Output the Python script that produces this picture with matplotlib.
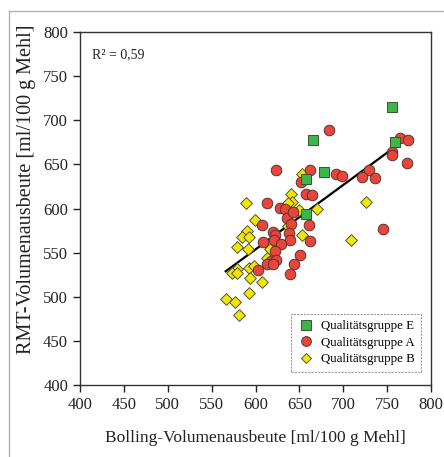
import matplotlib
matplotlib.use("Agg")
import matplotlib.pyplot as plt
from matplotlib.lines import Line2D

plt.rcParams['font.family'] = ['Liberation Serif', 'DejaVu Serif']

# Qualitätsgruppe E (green squares)
e_x = [756, 665, 759, 678, 657, 657]
e_y = [715, 678, 675, 642, 633, 594]

# Qualitätsgruppe A (red circles)
a_x = [684, 765, 774, 756, 756, 772, 623, 662, 692, 698, 729, 721, 736, 652,
       658, 664, 613, 628, 634, 636, 643, 607, 640, 661, 620, 622, 638, 621,
       639, 662, 608, 629, 622, 651, 618, 623, 613, 620, 644, 603, 639, 745]
a_y = [689, 680, 678, 664, 661, 652, 644, 644, 639, 637, 644, 636, 635, 630,
       617, 615, 606, 601, 600, 589, 596, 581, 583, 581, 574, 570, 572, 565,
       565, 563, 562, 560, 552, 548, 541, 542, 537, 537, 537, 531, 526, 577]

# Qualitätsgruppe B (yellow diamonds)
b_x = [653, 640, 641, 637, 589, 649, 670, 726, 599, 637, 590, 585, 593, 653,
       709, 579, 592, 617, 613, 593, 598, 579, 573, 579, 594, 607, 593, 566,
       577, 581]
b_y = [639, 616, 608, 606, 606, 598, 600, 607, 587, 580, 575, 568, 568, 570,
       565, 557, 554, 554, 544, 533, 535, 532, 527, 527, 522, 517, 504, 498,
       494, 479]

# regression line endpoints
fit_x = [566, 770]
fit_y = [529, 678]

x_ticks = [400, 450, 500, 550, 600, 650, 700, 750, 800]
y_ticks = [400, 450, 500, 550, 600, 650, 700, 750, 800]

fig = plt.figure(figsize=(4.44, 4.57), dpi=100)
fig.patch.set_facecolor('white')
# scanned frame
fig.add_artist(Line2D([0.02, 0.02], [0.0, 0.975], transform=fig.transFigure,
                      color='#a9b8a0', lw=1.0))
fig.add_artist(Line2D([0.02, 1.0], [0.975, 0.975], transform=fig.transFigure,
                      color='#a9b8a0', lw=1.0))

ax = fig.add_axes([0.180, 0.157, 0.791, 0.773])
ax.plot(fit_x, fit_y, color='black', lw=1.6, zorder=2)
ax.scatter(b_x, b_y, marker='D', s=36, facecolor='#f3e600', edgecolor='#555533',
           linewidth=0.7, zorder=3, label='Qualitätsgruppe B')
ax.scatter(a_x, a_y, marker='o', s=58, facecolor='#e8463a', edgecolor='#553333',
           linewidth=0.7, zorder=3, label='Qualitätsgruppe A')
ax.scatter(e_x, e_y, marker='s', s=50, facecolor='#3db54a', edgecolor='#335533',
           linewidth=0.7, zorder=3, label='Qualitätsgruppe E')

ax.set_xlim(400, 800)
ax.set_ylim(400, 800)
ax.set_xticks(x_ticks)
ax.set_yticks(y_ticks)
ax.tick_params(direction='out', length=5, width=1, labelsize=12, colors='#222222')
for s in ax.spines.values():
    s.set_linewidth(1.0)
    s.set_color('#333333')

ax.set_xlabel('Bolling-Volumenausbeute [ml/100 g Mehl]', fontsize=12.5, labelpad=12,
              color='#222222')
ax.set_ylabel('RMT-Volumenausbeute [ml/100 g Mehl]', fontsize=14.5,
              color='#222222')
ax.yaxis.set_label_coords(-0.125, 0.555)

ax.text(0.035, 0.935, 'R² = 0,59', transform=ax.transAxes, fontsize=10,
        color='#222222', va='center')

handles = [
    Line2D([], [], marker='s', ls='none', markersize=6.5, markerfacecolor='#3db54a',
           markeredgecolor='#335533', markeredgewidth=0.7),
    Line2D([], [], marker='o', ls='none', markersize=7, markerfacecolor='#e8463a',
           markeredgecolor='#553333', markeredgewidth=0.7),
    Line2D([], [], marker='D', ls='none', markersize=5.5, markerfacecolor='#f3e600',
           markeredgecolor='#555533', markeredgewidth=0.7),
]
labels = ['Qualitätsgruppe E', 'Qualitätsgruppe A', 'Qualitätsgruppe B']
leg = ax.legend(handles, labels, loc='lower right', fontsize=9.3, frameon=True,
                fancybox=False, borderpad=0.5, handletextpad=0.5, labelspacing=0.35,
                handlelength=1.3, bbox_to_anchor=(0.99, 0.02))
leg.get_frame().set_edgecolor('#888888')
leg.get_frame().set_linestyle((0, (2, 1)))
leg.get_frame().set_linewidth(0.8)

fig.savefig('out.png', dpi=100)
